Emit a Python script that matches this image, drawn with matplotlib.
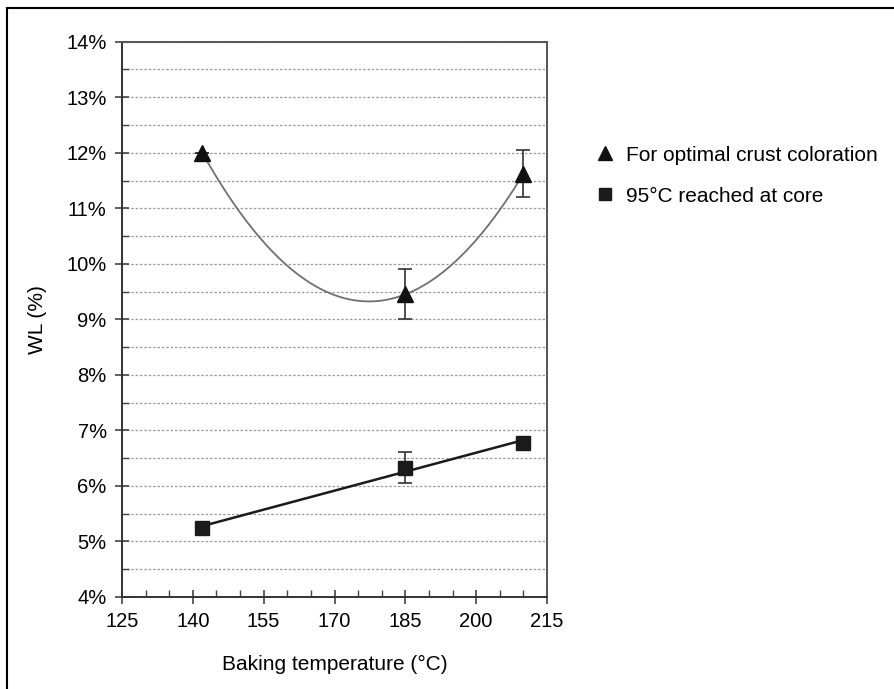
import numpy as np
import matplotlib
matplotlib.use("Agg")
import matplotlib.pyplot as plt
from matplotlib.lines import Line2D
from matplotlib.ticker import MultipleLocator, FixedLocator, FuncFormatter

plt.rcParams['font.family'] = ['Liberation Sans', 'DejaVu Sans']

# data
temp = [142, 185, 210]
wl_crust = [12.0, 9.45, 11.62]
crust_err_lo = [0.0, 0.44, 0.42]
crust_err_hi = [0.0, 0.46, 0.43]
wl_core = [5.25, 6.33, 6.78]
core_err_lo = [0.0, 0.28, 0.0]
core_err_hi = [0.0, 0.28, 0.0]

x_ticks = [125, 140, 155, 170, 185, 200, 215]
label_crust = 'For optimal crust coloration'
label_core = '95°C reached at core'

fig = plt.figure(figsize=(8.94, 6.89), dpi=100)
ax = fig.add_axes([122 / 894, 1 - 597 / 689, 425 / 894, (597 - 41.7) / 689])

# trendlines (polynomial order 2 and linear) fitted to the points
xs = np.linspace(temp[0], temp[-1], 200)
p2 = np.polyfit(temp, wl_crust, 2)
ax.plot(xs, np.polyval(p2, xs), color='#707070', lw=1.3, zorder=2)
p1 = np.polyfit(temp, wl_core, 1)
ax.plot(xs, np.polyval(p1, xs), color='#1a1a1a', lw=1.8, zorder=2)

ax.errorbar(temp, wl_crust, yerr=[crust_err_lo, crust_err_hi], fmt='^', color='#111111',
            ms=11, ecolor='#333333', elinewidth=1.2, capsize=5, capthick=1.2, zorder=3)
ax.errorbar(temp, wl_core, yerr=[core_err_lo, core_err_hi], fmt='s', color='#1a1a1a',
            ms=10, ecolor='#333333', elinewidth=1.2, capsize=5, capthick=1.2, zorder=3)

ax.set_xlim(125, 215)
ax.set_ylim(4, 14)
ax.xaxis.set_major_locator(FixedLocator(x_ticks))
ax.xaxis.set_minor_locator(MultipleLocator(5))
ax.yaxis.set_major_locator(MultipleLocator(1))
ax.yaxis.set_minor_locator(MultipleLocator(0.5))
ax.yaxis.set_major_formatter(FuncFormatter(lambda v, p: '%d%%' % round(v)))

ax.grid(True, which='both', axis='y', linestyle=(0, (2, 1.5)), color='#9a9a9a', lw=0.9)
ax.set_axisbelow(True)

ax.tick_params(axis='both', which='major', direction='inout', length=10, width=1.2,
               labelsize=14.5, color='#444444', pad=6)
ax.tick_params(axis='both', which='minor', direction='in', length=5, width=1.0, color='#444444')

for s in ['left', 'bottom']:
    ax.spines[s].set_color('#333333')
    ax.spines[s].set_linewidth(1.4)
for s in ['top', 'right']:
    ax.spines[s].set_color('#555555')
    ax.spines[s].set_linewidth(1.4)

ax.set_xlabel('Baking temperature (°C)', fontsize=15, labelpad=17)
ax.set_ylabel('WL (%)', fontsize=15, labelpad=14)

handles = [Line2D([], [], marker='^', ls='none', color='#111111', ms=10),
           Line2D([], [], marker='s', ls='none', color='#1a1a1a', ms=9)]
fig.legend(handles, [label_crust, label_core], loc='upper left',
           bbox_to_anchor=(576 / 894, 1 - 127 / 689), frameon=False, fontsize=15,
           handlelength=1.0, handletextpad=0.5, labelspacing=1.05)

# partial outer frame (left and top edges)
fig.add_artist(Line2D([7 / 894, 7 / 894], [0, 1 - 8 / 689], color='black', lw=1.5,
                      transform=fig.transFigure))
fig.add_artist(Line2D([7 / 894, 1], [1 - 8 / 689, 1 - 8 / 689], color='black', lw=1.5,
                      transform=fig.transFigure))

fig.savefig('out.png', dpi=100)
